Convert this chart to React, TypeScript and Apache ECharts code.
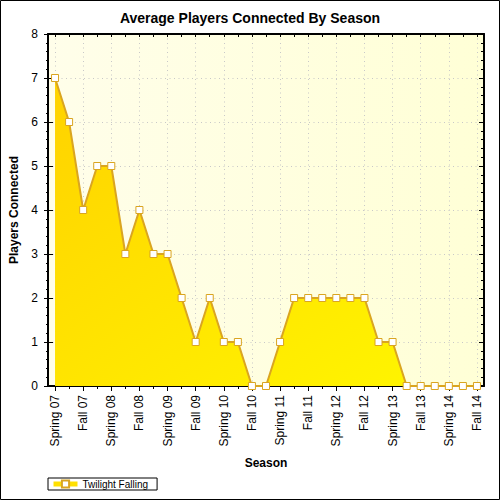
import React, { useEffect, useRef } from "react";
import * as echarts from "echarts";

const seasons = [
  "Spring 07", "Summer 07", "Fall 07", "Winter 07",
  "Spring 08", "Summer 08", "Fall 08", "Winter 08",
  "Spring 09", "Summer 09", "Fall 09", "Winter 09",
  "Spring 10", "Summer 10", "Fall 10", "Winter 10",
  "Spring 11", "Summer 11", "Fall 11", "Winter 11",
  "Spring 12", "Summer 12", "Fall 12", "Winter 12",
  "Spring 13", "Summer 13", "Fall 13", "Winter 13",
  "Spring 14", "Summer 14", "Fall 14",
];

const playersConnected = [
  7, 6, 4, 5, 5, 3, 4, 3, 3, 2, 1, 2, 1, 1, 0, 0,
  1, 2, 2, 2, 2, 2, 2, 1, 1, 0, 0, 0, 0, 0, 0,
];

const seriesName = "Twilight Falling";
const titleText = "Average Players Connected By Season";
const xName = "Season";
const yName = "Players Connected";

const FONT = "Liberation Sans, Arial, sans-serif";
const GOLD = "#DAA520";

export default function App() {
  const ref = useRef<HTMLDivElement>(null);
  useEffect(() => {
    if (!ref.current) return;
    const chart = echarts.init(ref.current, null, { renderer: "svg" });
    const black = { color: "#000" };
    const baseX = {
      type: "category",
      data: seasons,
      boundaryGap: true,
      axisLine: { show: false, onZero: false },
      axisLabel: { show: false },
      splitLine: { show: false },
    };
    const baseY = {
      type: "value",
      min: 0,
      max: 8,
      interval: 1,
      axisLine: { show: false, onZero: false },
      axisLabel: { show: false },
      splitLine: { show: false },
    };
    chart.setOption({
      animation: false,
      backgroundColor: "#fff",
      textStyle: { fontFamily: FONT },
      title: {
        text: titleText,
        left: "center",
        top: 10,
        padding: 0,
        textStyle: { fontFamily: FONT, fontSize: 14, fontWeight: "bold", color: "#000", lineHeight: 15 },
      },
      grid: {
        left: 48,
        right: 16,
        top: 34,
        bottom: 114,
        show: true,
        borderWidth: 0,
        backgroundColor: new echarts.graphic.LinearGradient(0, 0, 1, 0, [
          { offset: 0, color: "#FFFEEA" },
          { offset: 1, color: "#FFFFD6" },
        ]),
        containLabel: false,
      },
      legend: {
        left: 48,
        top: 478,
        orient: "horizontal",
        borderColor: "#000",
        borderWidth: 1,
        padding: [1, 9, 1, 3],
        itemWidth: 24,
        itemHeight: 9,
        itemGap: 5,
        lineStyle: { color: "#FFE000", width: 5 },
        textStyle: { fontFamily: FONT, fontSize: 10, color: "#000" },
        data: [seriesName],
      },
      xAxis: [
        {
          ...baseX,
          position: "bottom",
          name: xName,
          nameLocation: "middle",
          nameGap: 71,
          nameTextStyle: { fontFamily: FONT, fontSize: 12, fontWeight: "bold", color: "#000" },
          axisLine: { show: true, onZero: false, lineStyle: { color: "#000", width: 2 } },
          axisTick: { show: true, alignWithLabel: true, interval: 1, length: 5, lineStyle: black },
          axisLabel: {
            show: true,
            interval: 1,
            rotate: 90,
            margin: 9,
            fontFamily: FONT,
            fontSize: 12,
            color: "#000",
          },
          splitLine: {
            show: true,
            interval: 1,
            alignWithLabel: true,
            lineStyle: { color: "#C8C8C8", type: [1, 3.5], width: 1 },
          },
        },
        {
          ...baseX,
          position: "bottom",
          axisTick: { show: true, inside: true, alignWithLabel: true, interval: 1, length: 3, lineStyle: black },
        },
        {
          ...baseX,
          position: "bottom",
          axisTick: { show: true, alignWithLabel: true, interval: 0, length: 3, lineStyle: black },
        },
        {
          ...baseX,
          position: "top",
          axisLine: { show: true, onZero: false, lineStyle: { color: "#000", width: 2 } },
          axisTick: { show: true, inside: true, alignWithLabel: true, interval: 0, length: 3, lineStyle: black },
        },
      ],
      yAxis: [
        {
          ...baseY,
          position: "left",
          name: yName,
          nameLocation: "middle",
          nameGap: 27,
          nameTextStyle: { fontFamily: FONT, fontSize: 12, fontWeight: "bold", color: "#000" },
          axisLine: { show: true, onZero: false, lineStyle: { color: "#000", width: 2 } },
          axisTick: { show: true, length: 4, lineStyle: black },
          minorTick: { show: true, splitNumber: 5, length: 2, lineStyle: black },
          axisLabel: { show: true, margin: 10, fontFamily: FONT, fontSize: 12, color: "#000" },
          splitLine: {
            show: true,
            lineStyle: { color: "#C8C8C8", type: [1, 3.5], width: 1 },
          },
        },
        {
          ...baseY,
          position: "left",
          axisTick: { show: true, inside: true, length: 5, lineStyle: black },
          minorTick: { show: false },
        },
        {
          ...baseY,
          position: "right",
          axisLine: { show: true, onZero: false, lineStyle: { color: "#000", width: 2 } },
          axisTick: { show: true, inside: true, length: 5, lineStyle: black },
          minorTick: { show: true, splitNumber: 5, length: 3, lineStyle: black },
        },
      ],
      series: [
        {
          name: seriesName,
          type: "line",
          xAxisIndex: 0,
          yAxisIndex: 0,
          data: playersConnected,
          symbol: "rect",
          symbolSize: 7,
          showAllSymbol: true,
          itemStyle: { color: "#FFFFFF", borderColor: GOLD, borderWidth: 1 },
          lineStyle: { color: GOLD, width: 2 },
          areaStyle: {
            opacity: 1,
            color: new echarts.graphic.LinearGradient(0, 0, 1, 1, [
              { offset: 0, color: "#FFD200" },
              { offset: 1, color: "#FFF700" },
            ]),
          },
          z: 3,
        },
      ],
      graphic: [
        {
          type: "rect",
          shape: { x: 0.5, y: 0.5, width: 499, height: 499 },
          style: { fill: "none", stroke: "#000", lineWidth: 1 },
          silent: true,
          z: 100,
        },
      ],
    });
    return () => chart.dispose();
  }, []);
  return (
    <div
      ref={ref}
      style={{ position: "absolute", left: 0, top: 0, width: 500, height: 500 }}
    />
  );
}
